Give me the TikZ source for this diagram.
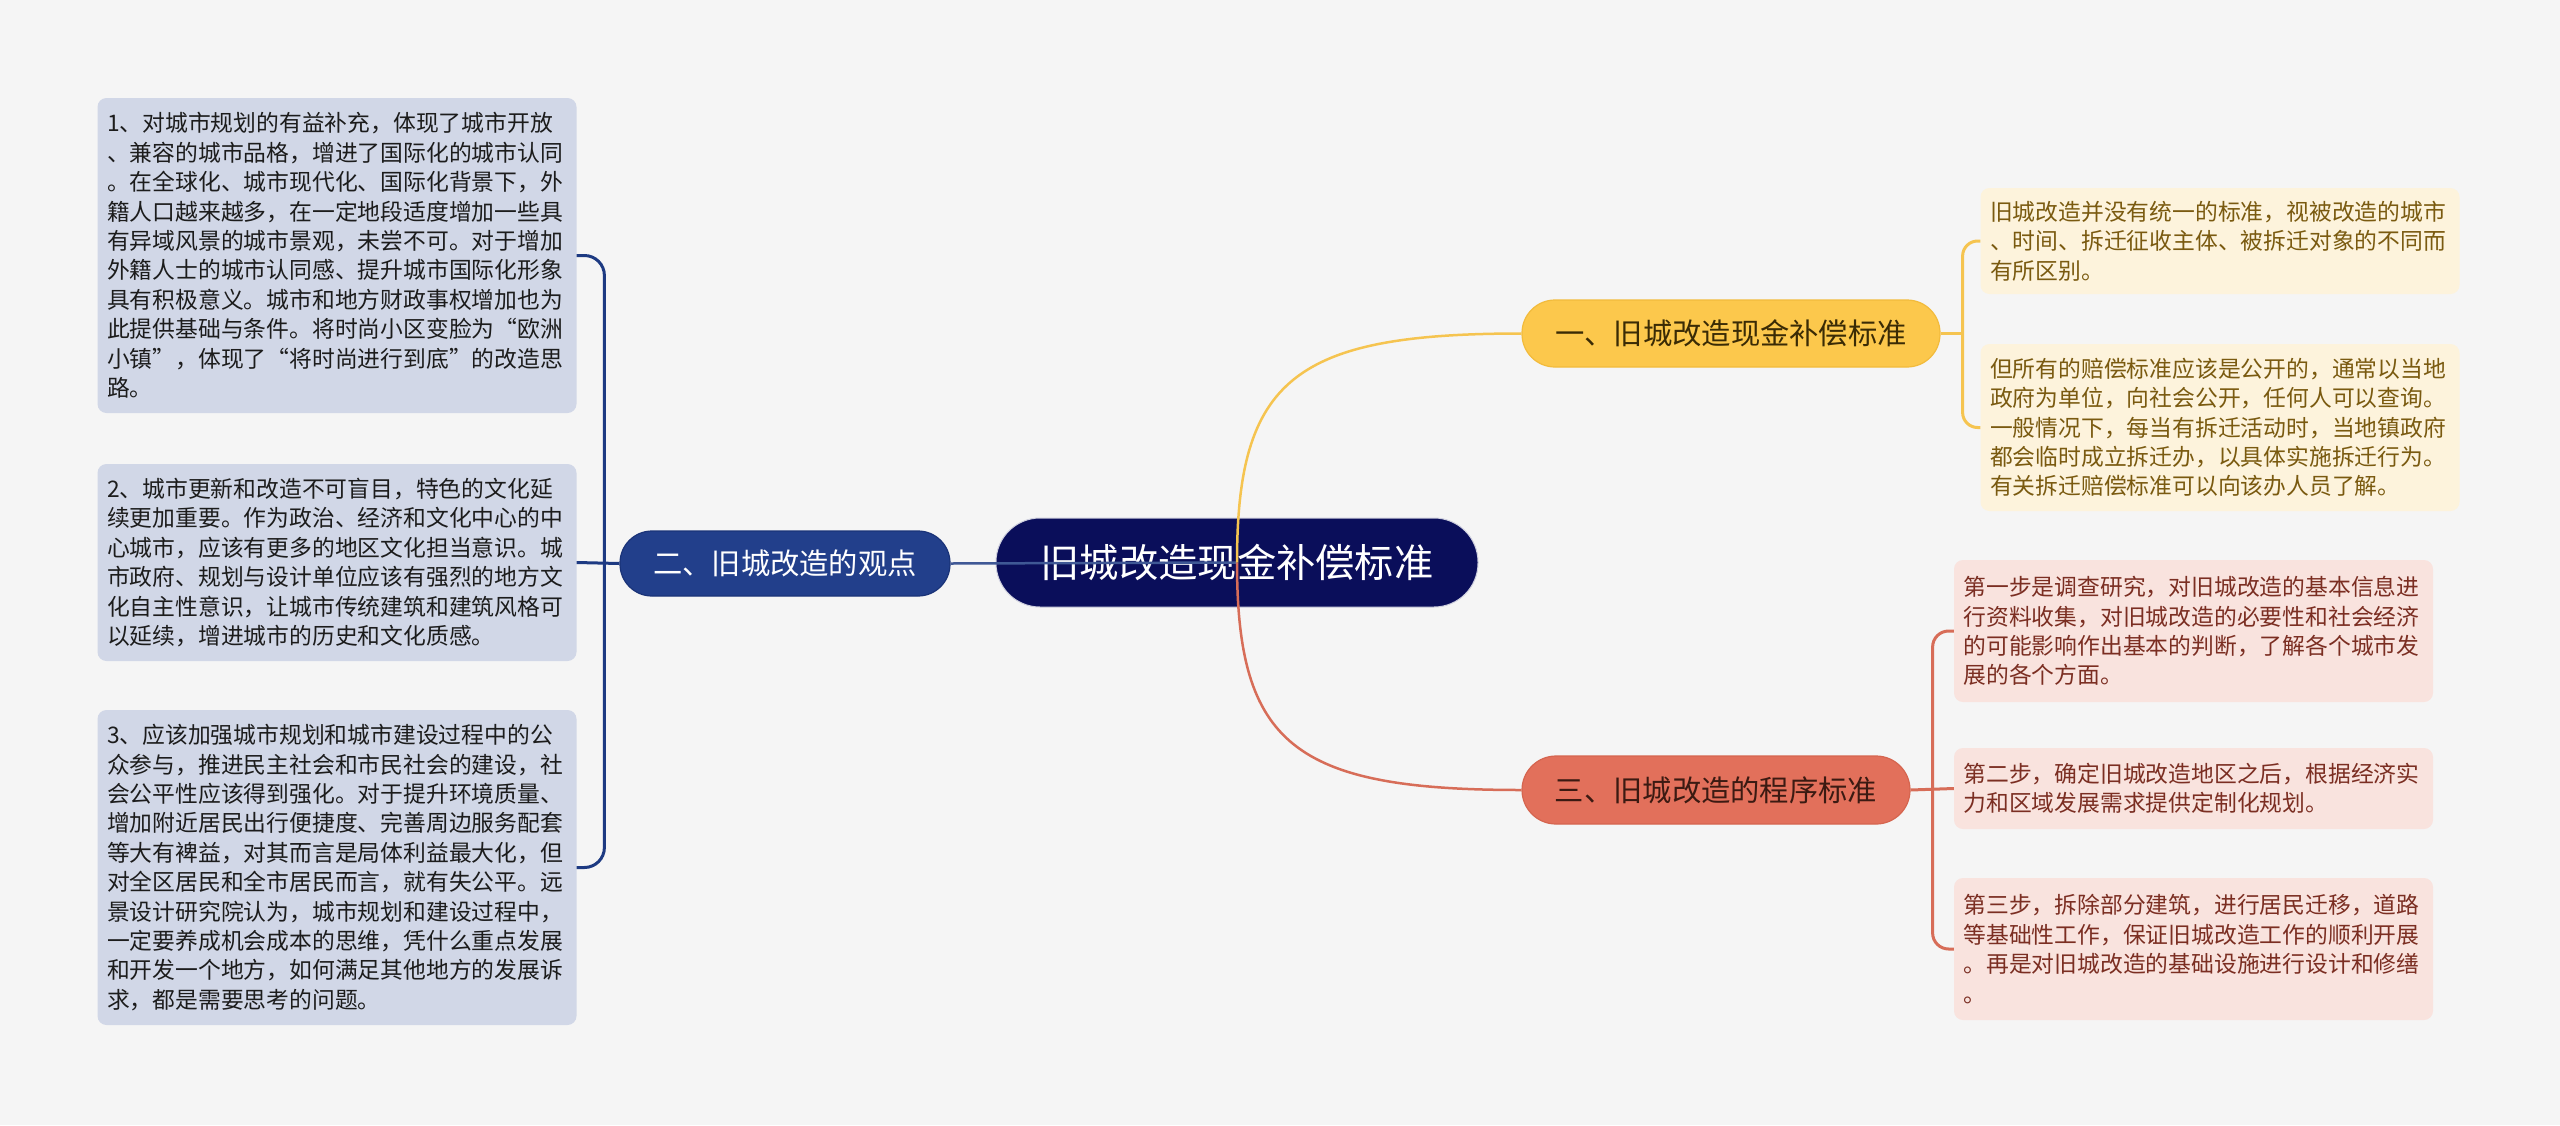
\documentclass[tikz,border=0pt]{standalone}
\usepackage{fontspec}
\setmainfont{Noto Sans CJK SC}
\usetikzlibrary{calc}
\definecolor{bgc}{HTML}{F5F5F5}
\definecolor{lbfill}{HTML}{D1D7E7}
\definecolor{lbtext}{HTML}{1C1C1C}
\definecolor{gtwo}{HTML}{223F8B}
\definecolor{gtwob}{HTML}{1A3378}
\definecolor{cfill}{HTML}{0A0E5A}
\definecolor{bline}{HTML}{1D3A82}
\definecolor{ynode}{HTML}{FCC84C}
\definecolor{ynodeb}{HTML}{F2BB3C}
\definecolor{ytext}{HTML}{3A2B05}
\definecolor{yline}{HTML}{F5C450}
\definecolor{yfill}{HTML}{FDF3DC}
\definecolor{ybtext}{HTML}{7A5A10}
\definecolor{pnode}{HTML}{E2705B}
\definecolor{pnodeb}{HTML}{D5654F}
\definecolor{ptext}{HTML}{3B1A12}
\definecolor{pline}{HTML}{D76D58}
\definecolor{pfill}{HTML}{F9E3DE}
\definecolor{pbtext}{HTML}{7B2E22}
\begin{document}
\begin{tikzpicture}[x=1pt,y=-1pt,
  every node/.style={inner sep=0pt},
  textbox/.style={rounded corners=9, align=left, text width=460, inner xsep=9.5,
    font=\fontsize{22.8}{29.4}\selectfont},
  lbox/.style={textbox, fill=lbfill, text=lbtext},
  ybox/.style={textbox, fill=yfill, text=ybtext},
  pbox/.style={textbox, fill=pfill, text=pbtext},
  pill/.style={rounded corners=32, font=\fontsize{29.3}{34}\selectfont, line width=1.2pt},
  conn/.style={line width=3pt},
  bl/.style={conn, draw=bline},
  yl/.style={conn, draw=yline},
  pl/.style={conn, draw=pline}]
\useasboundingbox (0,0) rectangle (2560,1125);
\fill[bgc] (0,0) rectangle (2560,1125);

% left boxes
\node[lbox, minimum height=315] (lb1) at (337,255.5) {1、对城市规划的有益补充，体现了城市开放\\%
、兼容的城市品格，增进了国际化的城市认同\\%
。在全球化、城市现代化、国际化背景下，外\\%
籍人口越来越多，在一定地段适度增加一些具\\%
有异域风景的城市景观，未尝不可。对于增加\\%
外籍人士的城市认同感、提升城市国际化形象\\%
具有积极意义。城市和地方财政事权增加也为\\%
此提供基础与条件。将时尚小区变脸为“欧洲\\%
小镇”，体现了“将时尚进行到底”的改造思\\%
路。};
\node[lbox, minimum height=197] (lb2) at (337,562.5) {2、城市更新和改造不可盲目，特色的文化延\\%
续更加重要。作为政治、经济和文化中心的中\\%
心城市，应该有更多的地区文化担当意识。城\\%
市政府、规划与设计单位应该有强烈的地方文\\%
化自主性意识，让城市传统建筑和建筑风格可\\%
以延续，增进城市的历史和文化质感。};
\node[lbox, minimum height=315] (lb3) at (337,867.5) {3、应该加强城市规划和城市建设过程中的公\\%
众参与，推进民主社会和市民社会的建设，社\\%
会公平性应该得到强化。对于提升环境质量、\\%
增加附近居民出行便捷度、完善周边服务配套\\%
等大有裨益，对其而言是局体利益最大化，但\\%
对全区居民和全市居民而言，就有失公平。远\\%
景设计研究院认为，城市规划和建设过程中，\\%
一定要养成机会成本的思维，凭什么重点发展\\%
和开发一个地方，如何满足其他地方的发展诉\\%
求，都是需要思考的问题。};

% right yellow boxes
\node[ybox, minimum height=106] (rb1) at (2220,241) {旧城改造并没有统一的标准，视被改造的城市\\%
、时间、拆迁征收主体、被拆迁对象的不同而\\%
有所区别。};
\node[ybox, minimum height=167] (rb2) at (2220,427.5) {但所有的赔偿标准应该是公开的，通常以当地\\%
政府为单位，向社会公开，任何人可以查询。\\%
一般情况下，每当有拆迁活动时，当地镇政府\\%
都会临时成立拆迁办，以具体实施拆迁行为。\\%
有关拆迁赔偿标准可以向该办人员了解。};

% right pink boxes
\node[pbox, minimum height=142] (pb1) at (2193.5,631) {第一步是调查研究，对旧城改造的基本信息进\\%
行资料收集，对旧城改造的必要性和社会经济\\%
的可能影响作出基本的判断，了解各个城市发\\%
展的各个方面。};
\node[pbox, minimum height=81] (pb2) at (2193.5,788.5) {第二步，确定旧城改造地区之后，根据经济实\\%
力和区域发展需求提供定制化规划。};
\node[pbox, minimum height=142] (pb3) at (2193.5,949) {第三步，拆除部分建筑，进行居民迁移，道路\\%
等基础性工作，保证旧城改造工作的顺利开展\\%
。再是对旧城改造的基础设施进行设计和修缮\\%
。};

% branch nodes
\node[pill, fill=gtwo, draw=gtwob, text=white, minimum width=330, minimum height=65] (g2) at (785,563.5) {二、旧城改造的观点};
\node[pill, fill=ynode, draw=ynodeb, text=ytext, minimum width=418, minimum height=67, rounded corners=33] (n1) at (1731,333.5) {一、旧城改造现金补偿标准};
\node[pill, fill=pnode, draw=pnodeb, text=ptext, minimum width=388, minimum height=68, rounded corners=34] (n3) at (1716,790) {三、旧城改造的程序标准};
\node[fill=cfill, draw=white!80!cfill, line width=1pt, rounded corners=44, minimum width=482, minimum height=89, text=white, font=\fontsize{39.3}{44}\selectfont] (c) at (1237,562.5) {旧城改造现金补偿标准};

% junctions
\coordinate (lj) at ($(g2.west)+(-15,0)$);
\coordinate (yj) at ($(n1.east)+(22,0)$);
\coordinate (pj) at ($(n3.east)+(22,0)$);

% brackets
\draw[bl, rounded corners=20] (lb1.east) -| (lj) |- (lb3.east);
\draw[bl] (g2.west) -- (lb2.east);
\draw[yl, rounded corners=15] (rb1.west) -| (yj) |- (rb2.west);
\draw[yl] (n1.east) -- (yj);
\draw[pl, rounded corners=16] (pb1.west) -| (pj) |- (pb3.west);
\draw[pl] (n3.east) -- (pb2.west);

% central connectors (drawn over the central node)
\draw[bl, line width=2.5pt, draw=bline!85!white] (c.center) -- (g2.east);
\draw[yl, line width=2.5pt] (c.center) .. controls ($(c.center)!0.8!(c.center|-n1.west)$) and ($(c.center|-n1.west)!0.2!(n1.west)$) .. (n1.west);
\draw[pl, line width=2.5pt] (c.center) .. controls ($(c.center)!0.8!(c.center|-n3.west)$) and ($(c.center|-n3.west)!0.2!(n3.west)$) .. (n3.west);
\end{tikzpicture}
\end{document}
